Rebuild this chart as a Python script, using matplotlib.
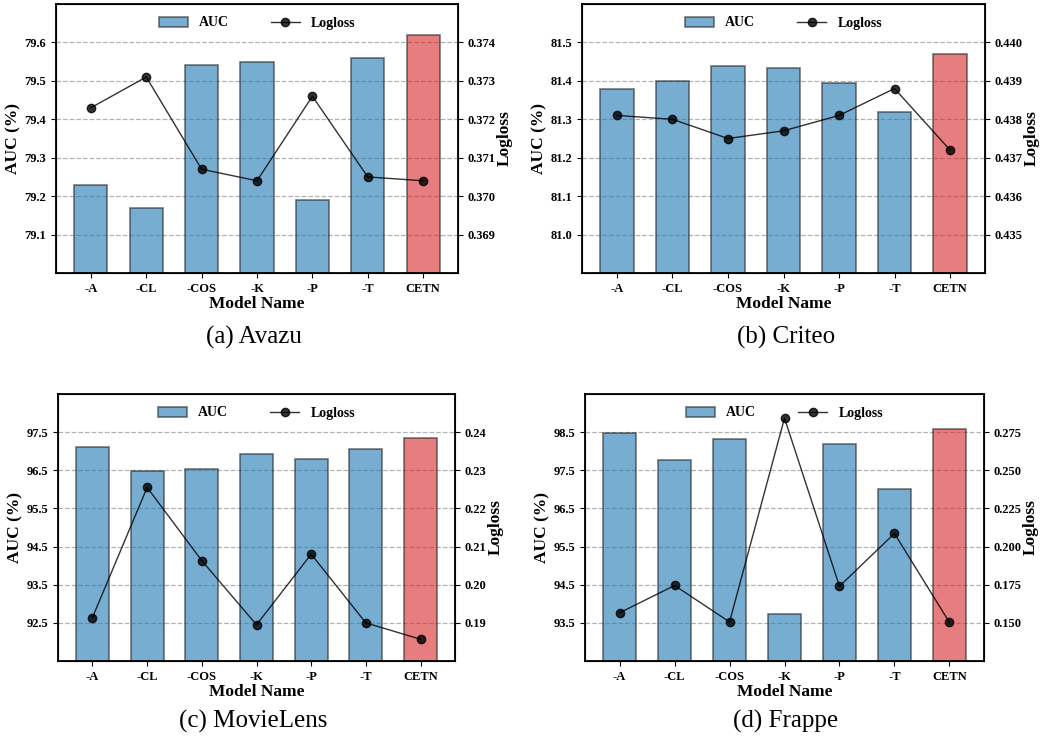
import matplotlib
matplotlib.use("Agg")
import matplotlib.pyplot as plt
import numpy as np

plt.rcParams['font.family'] = ['Liberation Serif', 'DejaVu Serif']

# данные
models = ['-A', '-CL', '-COS', '-K', '-P', '-T', 'CETN']

avazu_auc = [79.23, 79.17, 79.54, 79.55, 79.19, 79.56, 79.62]
avazu_logloss = [0.3723, 0.3731, 0.3707, 0.3704, 0.3726, 0.3705, 0.3704]

criteo_auc = [81.38, 81.40, 81.439, 81.433, 81.394, 81.32, 81.471]
criteo_logloss = [0.4381, 0.4380, 0.4375, 0.4377, 0.4381, 0.4388, 0.4372]

movielens_auc = [97.12, 96.49, 96.54, 96.92, 96.80, 97.05, 97.34]
movielens_logloss = [0.1914, 0.2255, 0.2063, 0.1895, 0.2080, 0.1900, 0.1857]

frappe_auc = [98.49, 97.76, 98.32, 93.74, 98.18, 97.01, 98.58]
frappe_logloss = [0.1566, 0.1745, 0.1506, 0.2842, 0.1740, 0.2086, 0.1504]

captions = ['(a) Avazu', '(b) Criteo', '(c) MovieLens', '(d) Frappe']

auc_ticks = [
    [79.1, 79.2, 79.3, 79.4, 79.5, 79.6],
    [81.0, 81.1, 81.2, 81.3, 81.4, 81.5],
    [92.5, 93.5, 94.5, 95.5, 96.5, 97.5],
    [93.5, 94.5, 95.5, 96.5, 97.5, 98.5],
]
auc_lims = [(79.0, 79.7), (80.9, 81.6), (91.5, 98.5), (92.5, 99.5)]
loss_ticks = [
    [0.369, 0.370, 0.371, 0.372, 0.373, 0.374],
    [0.435, 0.436, 0.437, 0.438, 0.439, 0.440],
    [0.19, 0.20, 0.21, 0.22, 0.23, 0.24],
    [0.150, 0.175, 0.200, 0.225, 0.250, 0.275],
]
loss_lims = [(0.368, 0.375), (0.434, 0.441), (0.18, 0.25), (0.125, 0.300)]
loss_fmt = ['%.3f', '%.3f', '%.2f', '%.3f']

all_auc = [avazu_auc, criteo_auc, movielens_auc, frappe_auc]
all_loss = [avazu_logloss, criteo_logloss, movielens_logloss, frappe_logloss]

# положения осей в пикселях: left, top, right, bottom
boxes = [(56, 4, 458, 273), (582, 4, 985, 273),
         (58, 394, 455, 661), (585, 394, 984, 661)]
caption_pos = [(254, 337), (786, 337), (253, 721), (786, 721)]

W, H = 1054, 740
fig = plt.figure(figsize=(W / 100, H / 100), dpi=100)

x = np.arange(len(models))
colors = ['tab:blue'] * 6 + ['tab:red']

for i in range(4):
    l, t, r, b = boxes[i]
    ax = fig.add_axes([l / W, 1 - b / H, (r - l) / W, (b - t) / H])
    ax.set_axisbelow(True)
    ax.yaxis.grid(True, linestyle='--', color='gray', alpha=0.6, linewidth=0.9)
    bars = ax.bar(x, all_auc[i], width=0.6, color=colors, alpha=0.6,
                  edgecolor='#202020', linewidth=1.2, label='AUC')
    ax.set_ylim(*auc_lims[i])
    ax.set_yticks(auc_ticks[i])
    ax.set_yticklabels(['%.1f' % v for v in auc_ticks[i]])
    ax.set_xticks(x)
    ax.set_xticklabels(models)
    ax.set_xlabel('Model Name', fontsize=12.5, fontweight='bold', labelpad=1)
    ax.set_ylabel('AUC (%)', fontsize=12.5, fontweight='bold', labelpad=2)
    for lab in ax.get_xticklabels() + ax.get_yticklabels():
        lab.set_fontweight('bold')
        lab.set_fontsize(9)
    for sp in ax.spines.values():
        sp.set_linewidth(1.3)

    ax2 = ax.twinx()
    line, = ax2.plot(x, all_loss[i], color='black', alpha=0.8, marker='o',
                     markersize=6, linewidth=1.0, label='Logloss')
    ax2.set_ylim(*loss_lims[i])
    ax2.set_yticks(loss_ticks[i])
    ax2.set_yticklabels([loss_fmt[i] % v for v in loss_ticks[i]])
    ax2.set_ylabel('Logloss', fontsize=12.5, fontweight='bold', labelpad=1)
    for lab in ax2.get_yticklabels():
        lab.set_fontweight('bold')
        lab.set_fontsize(9)

    ax.legend([bars, line], ['AUC', 'Logloss'], loc='upper center',
              bbox_to_anchor=(0.5, 1.0), ncol=2, frameon=False,
              prop={'weight': 'bold', 'size': 10}, columnspacing=3,
              handlelength=2.1)

    cx, cy = caption_pos[i]
    fig.text(cx / W, 1 - cy / H, captions[i], ha='center', va='center',
             fontsize=18)

fig.savefig('out.png', dpi=100)
